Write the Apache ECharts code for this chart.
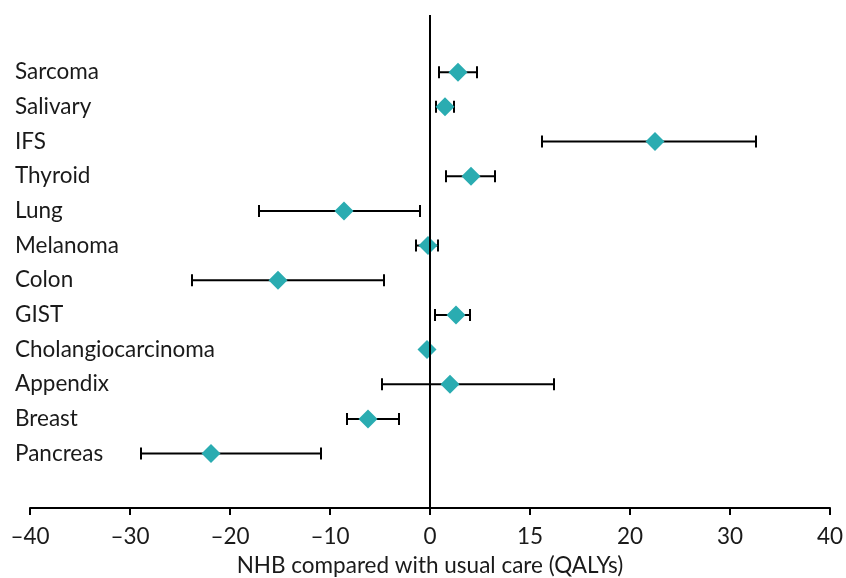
<!DOCTYPE html>
<html>
<head>
<meta charset="utf-8">
<script src="https://cdn.jsdelivr.net/npm/echarts@6/dist/echarts.min.js"></script>
<style>
  html, body { margin: 0; padding: 0; background: #fff; }
  #chart { width: 846px; height: 578px; }
</style>
</head>
<body>
<div id="chart"></div>
<script>
// Net health benefit by tumour type (QALYs), point estimate with interval
const categories = ['Sarcoma', 'Salivary', 'IFS', 'Thyroid', 'Lung', 'Melanoma', 'Colon', 'GIST', 'Cholangiocarcinoma', 'Appendix', 'Breast', 'Pancreas'];
const estimates = [2.8, 1.5, 22.5, 4.1, -8.6, -0.2, -15.2, 2.6, -0.3, 2.0, -6.2, -21.9];
const lowerBounds = [0.9, 0.6, 11.2, 1.6, -17.1, -1.4, -23.8, 0.5, null, -4.8, -8.3, -28.9];
const upperBounds = [4.7, 2.4, 32.6, 6.5, -1.0, 0.8, -4.6, 4.0, null, 12.4, -3.1, -10.9];
const xTickLabels = ['–40', '–30', '–20', '–10', '0', '15', '20', '30', '40'];

const FONT = 'Lato, "Open Sans", sans-serif';
const TEAL = '#2aacb1';
const TEXT = '#1a1a1a';

const rows = categories.map((_, i) => i);
const pointData = estimates.map((v, i) => [v, i]);
const barData = categories.map((_, i) => [lowerBounds[i], upperBounds[i], i]);

const chart = echarts.init(document.getElementById('chart'));
chart.setOption({
  animation: false,
  backgroundColor: '#fff',
  grid: { left: 30, right: 16, top: 15, bottom: 70, outerBoundsMode: 'none', containLabel: false },
  xAxis: {
    type: 'value',
    min: -40, max: 40, interval: 10,
    splitLine: { show: false },
    axisLine: { show: true, onZero: false, lineStyle: { color: '#000', width: 2 } },
    axisTick: { show: true, length: 7, lineStyle: { color: '#000', width: 2 } },
    axisLabel: {
      margin: 17, color: TEXT, fontSize: 22.5, fontFamily: FONT,
      formatter: v => xTickLabels[Math.round((v + 40) / 10)]
    },
    name: 'NHB compared with usual care (QALYs)',
    nameLocation: 'middle', nameGap: 46,
    nameTextStyle: { color: TEXT, fontSize: 22.5, fontFamily: FONT }
  },
  yAxis: {
    type: 'value',
    inverse: true,
    min: -1.65, max: 12.57,
    splitLine: { show: false },
    axisLine: { show: false },
    axisTick: { show: false },
    axisLabel: {
      customValues: rows,
      align: 'left', margin: 15,
      color: TEXT, fontSize: 22.5, fontFamily: FONT,
      formatter: v => categories[Math.round(v)] || ''
    }
  },
  series: [
    {
      type: 'custom',
      data: barData,
      z: 2,
      renderItem: function (params, api) {
        const lo = api.value(0), hi = api.value(1), row = api.value(2);
        if (lo == null || hi == null || isNaN(lo) || isNaN(hi)) return null;
        const a = api.coord([lo, row]);
        const b = api.coord([hi, row]);
        const cap = 6;
        const style = { stroke: '#000', lineWidth: 2 };
        return {
          type: 'group',
          children: [
            { type: 'line', shape: { x1: a[0], y1: a[1], x2: b[0], y2: b[1] }, style },
            { type: 'line', shape: { x1: a[0], y1: a[1] - cap, x2: a[0], y2: a[1] + cap }, style },
            { type: 'line', shape: { x1: b[0], y1: b[1] - cap, x2: b[0], y2: b[1] + cap }, style }
          ]
        };
      },
      markLine: {
        silent: true,
        symbol: 'none',
        label: { show: false },
        lineStyle: { color: '#000', width: 2, type: 'solid' },
        data: [{ xAxis: 0 }]
      }
    },
    {
      type: 'scatter',
      data: pointData,
      symbol: 'diamond',
      symbolSize: 19,
      itemStyle: { color: TEAL, opacity: 1 },
      z: 3
    }
  ]
});
</script>
</body>
</html>
